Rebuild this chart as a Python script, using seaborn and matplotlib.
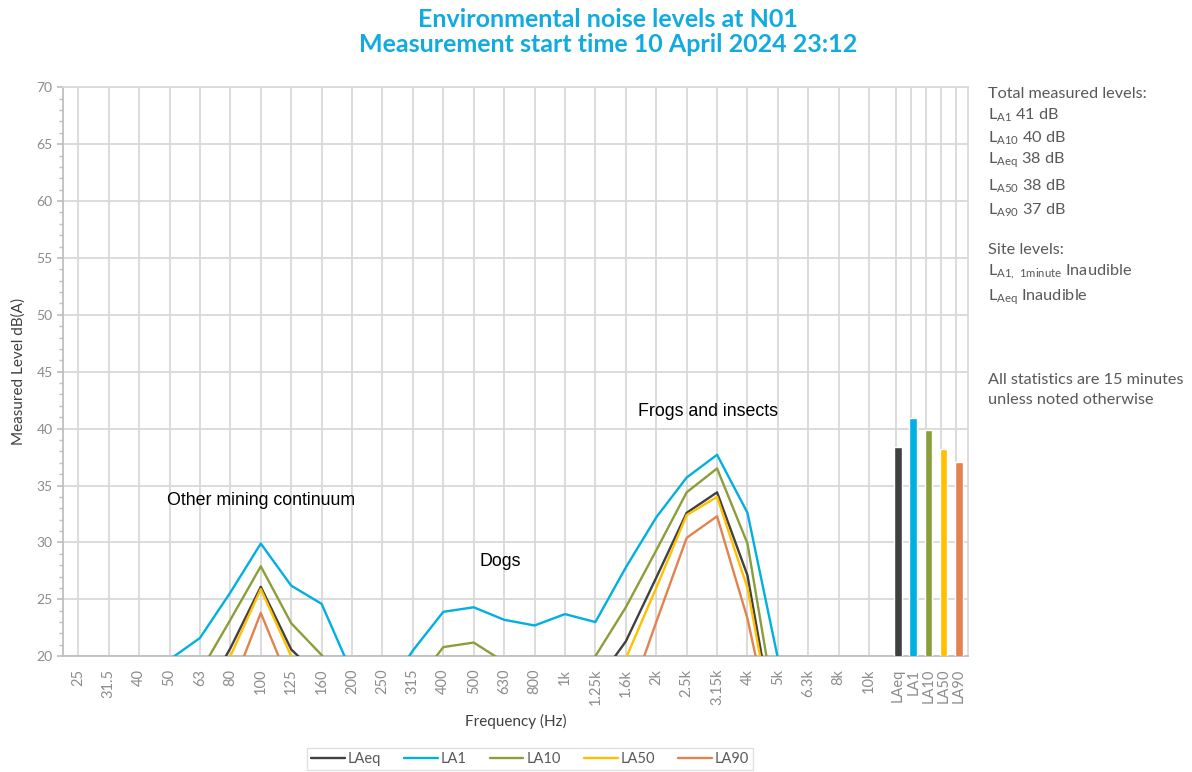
import numpy as np
import pandas as pd
import matplotlib
matplotlib.use('Agg')
import matplotlib.pyplot as plt
from matplotlib.ticker import MultipleLocator
import seaborn as sns

# categorii de frecventa (benzi de o treime de octava)
freq_labels = ['25', '31.5', '40', '50', '63', '80', '100', '125', '160', '200',
               '250', '315', '400', '500', '630', '800', '1k', '1.25k', '1.6k', '2k',
               '2.5k', '3.15k', '4k', '5k', '6.3k', '8k', '10k']

# niveluri (sub 20 dB nu se vad)
laeq = [13, 13.5, 14, 15, 16, 20.7, 26.1, 20.6, 18, 14, 13, 14, 16, 16.5, 15, 14,
        15, 17.6, 21.3, 26.9, 32.6, 34.4, 27.1, 12, 11, 11, 11]
la1 = [15, 15.5, 17, 19.7, 21.6, 25.6, 29.9, 26.2, 24.6, 18.5, 16.5, 20.5, 23.9, 24.3,
       23.2, 22.7, 23.7, 23.0, 27.8, 32.2, 35.7, 37.7, 32.6, 19.8, 15, 14, 13]
la10 = [14, 14.5, 15, 16, 18.6, 23.2, 27.9, 22.9, 20.1, 17, 15.5, 17.3, 20.8, 21.2,
        19.5, 17.5, 18, 20.0, 24.3, 29.3, 34.4, 36.5, 29.9, 14, 13, 12, 12]
la50 = [12, 12.5, 13, 14, 15.5, 20.0, 25.9, 20.0, 16, 13.5, 12.5, 13, 15, 15.5, 14,
        13, 14, 15, 19.8, 26.0, 32.4, 34.0, 26.0, 11.5, 10.5, 10, 10]
la90 = [11, 11.5, 12, 13, 14, 16.9, 23.8, 17.3, 15, 12.5, 11.5, 12, 14, 14.5, 13, 12,
        13, 14, 15.4, 23.0, 30.4, 32.3, 23.3, 11, 10, 9.5, 9.5]

# niveluri totale
total_labels = ['LAeq', 'LA1', 'LA10', 'LA50', 'LA90']
total_values = [38.4, 40.9, 39.9, 38.2, 37.1]

series_names = ['LAeq', 'LA1', 'LA10', 'LA50', 'LA90']
colors = ['#404040', '#00B0E0', '#8A9E3A', '#FFC000', '#E0834F']

# tabel lung pentru seaborn
n = len(freq_labels)
rows = []
for name, vals in zip(series_names, [laeq, la1, la10, la50, la90]):
    for i, v in enumerate(vals):
        rows.append({'pos': i, 'level': v, 'series': name})
df = pd.DataFrame(rows)

bar_pos = n + 0.5 * np.arange(len(total_labels)) - 0.05

sns.set_theme(style='white')
plt.rcParams['font.family'] = ['Lato', 'DejaVu Sans']
plt.rcParams['mathtext.fontset'] = 'custom'
plt.rcParams['mathtext.rm'] = 'Lato'

grey_txt = '#595959'
tick_col = '#8C8C8C'
grid_col = '#D9D9D9'

fig = plt.figure(figsize=(11.92, 7.72), dpi=100)
ax = fig.add_axes([0.0529, 0.150, 0.7592, 0.737])

# grila verticala
for x in list(range(n)) + list(bar_pos - 0.08):
    ax.axvline(x, color=grid_col, lw=1.3, zorder=0)
ax.yaxis.grid(True, color=grid_col, lw=1.3, zorder=0)
ax.set_axisbelow(True)

sns.lineplot(data=df, x='pos', y='level', hue='series', hue_order=series_names,
             palette=colors, linewidth=1.7, ax=ax, zorder=3)

ax.bar(bar_pos, total_values, width=0.25, color=colors, zorder=3)

ax.set_xlim(-0.5, n + 2.25)
ax.set_ylim(20, 70)
ax.yaxis.set_major_locator(MultipleLocator(5))
ax.yaxis.set_minor_locator(MultipleLocator(1))
ax.tick_params(axis='y', which='both', direction='out', left=True, color='#BFBFBF',
               labelcolor=tick_col, labelsize=10)
ax.tick_params(axis='y', which='major', length=4)
ax.tick_params(axis='y', which='minor', length=3)

ax.set_xticks(list(range(n)) + list(bar_pos))
ax.set_xticklabels(freq_labels + total_labels, rotation=90, color=tick_col, fontsize=10.5)
ax.tick_params(axis='x', length=0, pad=9)

for s in ['top', 'right']:
    ax.spines[s].set_color(grid_col)
for s in ['left', 'bottom']:
    ax.spines[s].set_color('#BFBFBF')
    ax.spines[s].set_linewidth(1.3)

ax.set_xlabel('Frequency (Hz)', color='#404040', fontsize=11, labelpad=6)
ax.set_ylabel('Measured Level dB(A)', color='#404040', fontsize=11, labelpad=8)

# adnotari
ax.text(6, 33.7, 'Other mining continuum', ha='center', va='center', fontsize=12.8,
        color='black', family=['Liberation Sans'])
ax.text(13.87, 28.3, 'Dogs', ha='center', va='center', fontsize=12.8,
        color='black', family=['Liberation Sans'])
ax.text(20.7, 41.5, 'Frogs and insects', ha='center', va='center', fontsize=12.8,
        color='black', family=['Liberation Sans'])

sns.move_legend(ax, 'upper center', bbox_to_anchor=(0.516, -0.148), ncol=5, title=None,
                frameon=True, fontsize=10.5, handlelength=2.3, handletextpad=0.2,
                columnspacing=1.6, edgecolor=grid_col, fancybox=False, borderpad=0.3)
for t in ax.get_legend().get_texts():
    t.set_color(grey_txt)

fig.suptitle('Environmental noise levels at N01\nMeasurement start time 10 April 2024 23:12',
             x=0.51, y=0.99, fontsize=18, fontweight='bold', color='#12ABE0',
             linespacing=1.1)

# text din dreapta
side = [
    (94, 'Total measured levels:'),
    (115, r'L$_{\mathrm{A1}}$ 41 dB'),
    (138, r'L$_{\mathrm{A10}}$ 40 dB'),
    (160, r'L$_{\mathrm{Aeq}}$ 38 dB'),
    (186, r'L$_{\mathrm{A50}}$ 38 dB'),
    (210, r'L$_{\mathrm{A90}}$ 37 dB'),
    (250, 'Site levels:'),
    (272, r'L$_{\mathrm{A1,\ 1minute}}$ Inaudible'),
    (297, r'L$_{\mathrm{Aeq}}$ Inaudible'),
    (380, 'All statistics are 15 minutes'),
    (400, 'unless noted otherwise'),
]
for ypx, txt in side:
    fig.text(988 / 1192, 1 - ypx / 772, txt, ha='left', va='center', fontsize=11.7,
             color=grey_txt)

fig.savefig('out.png', dpi=100)
